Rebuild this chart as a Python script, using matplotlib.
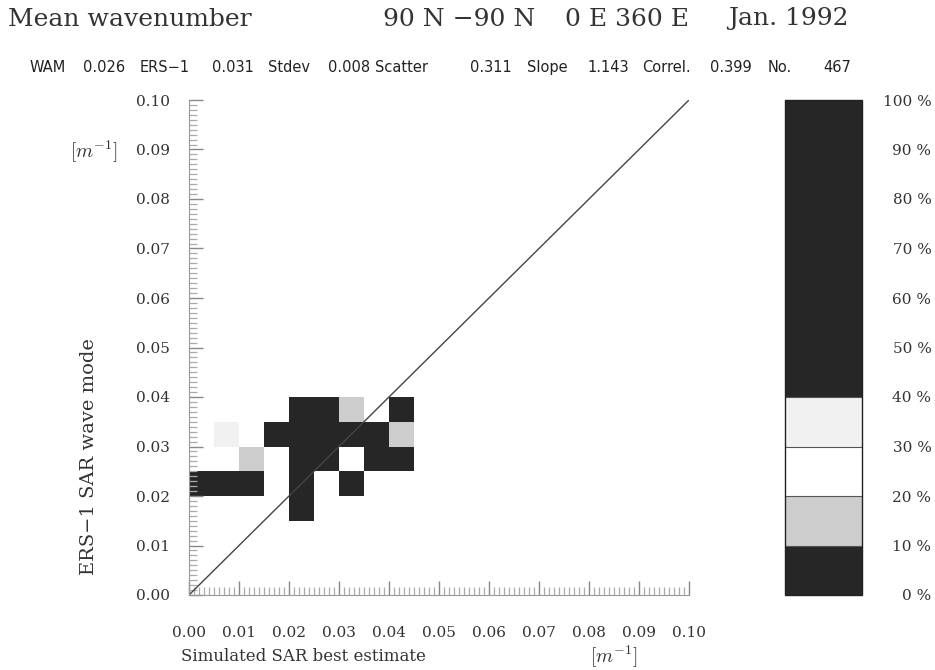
import numpy as np
import matplotlib
matplotlib.use("Agg")
import matplotlib.pyplot as plt
from matplotlib.colors import ListedColormap, BoundaryNorm
from matplotlib.ticker import MultipleLocator, FixedLocator
from matplotlib.cm import ScalarMappable

plt.rcParams['mathtext.fontset'] = 'cm'

# --- donnees ---
bin_size = 0.005
# coin bas-gauche de chaque case (m^-1) et pourcentage de la classe
cell_x = [0.020,
          0.000, 0.005, 0.010, 0.020, 0.030,
          0.010, 0.020, 0.025, 0.030, 0.035, 0.040,
          0.005, 0.015, 0.020, 0.025, 0.030, 0.035, 0.040,
          0.020, 0.025, 0.030, 0.040]
cell_y = [0.015,
          0.020, 0.020, 0.020, 0.020, 0.020,
          0.025, 0.025, 0.025, 0.025, 0.025, 0.025,
          0.030, 0.030, 0.030, 0.030, 0.030, 0.030, 0.030,
          0.035, 0.035, 0.035, 0.035]
cell_pct = [55,
            60, 50, 45, 85, 45,
            15, 95, 80, 25, 55, 50,
            35, 50, 100, 90, 70, 65, 15,
            75, 60, 15, 45]

pct_bounds = [0, 10, 20, 30, 40, 100]
class_colors = ['#262626', '#cdcdcd', '#ffffff', '#f1f1f1', '#262626']
pct_ticks = list(range(0, 101, 10))

stats_words = ["WAM", "0.026", "ERS\u22121", "0.031", "Stdev", "0.008",
               "Scatter", "0.311", "Slope", "1.143", "Correl.", "0.399",
               "No.", "467"]
# position gauche de chaque mot (pixels)
stats_px = [30, 83, 140, 212, 268, 328, 375, 470, 527, 587, 642, 710, 768, 823]

W, H = 935, 670
fig = plt.figure(figsize=(W / 100, H / 100), dpi=100)
serif = ['DejaVu Serif']
txt = '#333333'

# titre
for s, px in zip(["Mean wavenumber", "90 N \u221290 N", "0 E 360 E", "Jan. 1992"],
                 [8, 383, 565, 728]):
    fig.text(px / W, 1 - 19 / H, s, fontsize=18, family=serif,
             va='center', ha='left', color=txt)
for s, px in zip(stats_words, stats_px):
    fig.text(px / W, 1 - 72 / H, s, fontsize=10.5,
             family=['Liberation Sans Narrow', 'DejaVu Sans'],
             va='baseline', ha='left', color='#222222')

# --- diagramme de dispersion ---
ax = fig.add_axes([189 / W, 75 / H, 500 / W, 495 / H])
edges = np.arange(0, 0.1 + bin_size / 2, bin_size)
n = len(edges) - 1
grid = np.full((n, n), np.nan)
for x, y, p in zip(cell_x, cell_y, cell_pct):
    grid[int(round(y / bin_size)), int(round(x / bin_size))] = p

cmap = ListedColormap(class_colors)
norm = BoundaryNorm(pct_bounds, cmap.N)
ax.pcolormesh(edges, edges, np.ma.masked_invalid(grid), cmap=cmap, norm=norm)
ax.axline((0, 0), slope=1, color='#444444', lw=1.0)

ax.set_xlim(0, 0.1)
ax.set_ylim(0, 0.1)
for side in ['top', 'right']:
    ax.spines[side].set_visible(False)
for side in ['left', 'bottom']:
    ax.spines[side].set_color('#999999')
    ax.spines[side].set_linewidth(0.8)
ax.xaxis.set_major_locator(MultipleLocator(0.01))
ax.yaxis.set_major_locator(MultipleLocator(0.01))
ax.xaxis.set_minor_locator(MultipleLocator(0.001))
ax.yaxis.set_minor_locator(MultipleLocator(0.001))
ax.xaxis.set_major_formatter(lambda v, pos: f"{v:.2f}")
ax.yaxis.set_major_formatter(lambda v, pos: f"{v:.2f}")
ax.tick_params(which='major', direction='in', length=10, width=1.0,
               color='#888888', labelsize=11, labelcolor=txt)
ax.tick_params(which='minor', direction='in', length=6, width=0.9,
               color='#aaaaaa')
ax.tick_params(axis='x', which='major', pad=22)
ax.tick_params(axis='y', which='major', pad=14)
for lab in ax.get_xticklabels() + ax.get_yticklabels():
    lab.set_family(serif)

ax.set_xlabel("Simulated SAR best estimate", fontsize=12, family=serif,
              color=txt, va='center')
ax.xaxis.set_label_coords(0.228, -0.125)
ax.set_ylabel("ERS\u22121 SAR wave mode", fontsize=14, family=serif,
              color=txt, va='center')
ax.yaxis.set_label_coords(-0.2, 0.279)
ax.text(0.85, -0.125, r"$[m^{-1}]$", transform=ax.transAxes, fontsize=14,
        ha='center', va='center', color=txt)
ax.text(-0.19, 0.895, r"$[m^{-1}]$", transform=ax.transAxes, fontsize=14,
        ha='center', va='center', color=txt)

# --- echelle des classes ---
cax = fig.add_axes([785 / W, 75 / H, 77 / W, 495 / H])
cb = fig.colorbar(ScalarMappable(norm=norm, cmap=cmap), cax=cax,
                  boundaries=pct_bounds, spacing='proportional',
                  drawedges=True)
cb.outline.set_edgecolor('#222222')
cb.outline.set_linewidth(1.0)
cb.dividers.set_color('#555555')
cb.dividers.set_linewidth(0.8)
cax.yaxis.set_major_locator(FixedLocator(pct_ticks))
cax.yaxis.set_minor_locator(FixedLocator([]))
cax.set_yticklabels([f"{t} %" for t in pct_ticks])
cax.tick_params(length=0, pad=50, labelsize=11, labelcolor=txt)
for lab in cax.get_yticklabels():
    lab.set_family(serif)
    lab.set_horizontalalignment('right')

fig.savefig("out.png", dpi=100)
